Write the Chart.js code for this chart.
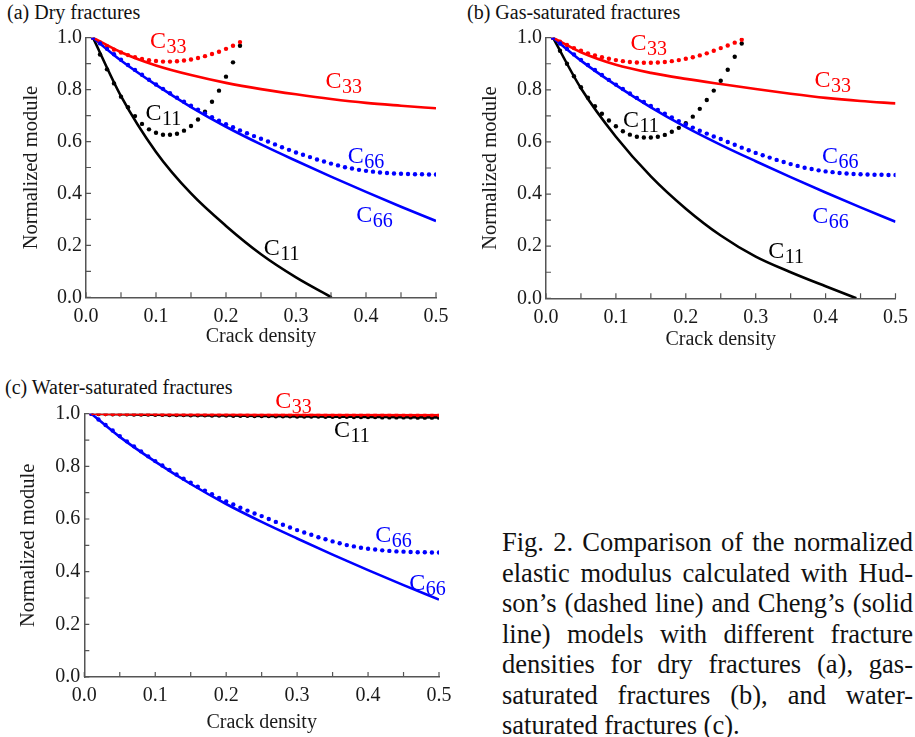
<!DOCTYPE html>
<html>
<head>
<meta charset="utf-8">
<script src="https://cdn.jsdelivr.net/npm/chart.js@4.4.0/dist/chart.umd.min.js"></script>
<style>
  body { margin: 0; background: #fff; width: 915px; height: 737px; position: relative; overflow: hidden;
         font-family: 'Liberation Serif', 'Times New Roman', serif; color: #111; }
  canvas { position: absolute; }
  .panel-title { position: absolute; font-size: 20px; line-height: 20px; white-space: nowrap; }
  .caption { position: absolute; left: 502px; top: 527px; width: 411px; font-size: 26.5px; line-height: 30.5px; }
  .caption div { text-align: justify; text-align-last: justify; }
  .caption div.last { text-align-last: left; }
</style>
</head>
<body>
<div class="panel-title" style="left:7px; top:1.5px;">(a) Dry fractures</div>
<div class="panel-title" style="left:467px; top:2.3px;">(b) Gas-saturated fractures</div>
<div class="panel-title" style="left:5px; top:377.3px;">(c) Water-saturated fractures</div>

<canvas id="dryChart" width="457" height="356" style="left:0; top:0;"></canvas>
<canvas id="gasChart" width="458" height="356" style="left:457px; top:0;"></canvas>
<canvas id="waterChart" width="460" height="367" style="left:0; top:370px;"></canvas>

<div class="caption">
  <div>Fig. 2. Comparison of the normalized</div>
  <div>elastic modulus calculated with Hud-</div>
  <div>son’s (dashed line) and Cheng’s (solid</div>
  <div>line) models with different fracture</div>
  <div>densities for dry fractures (a), gas-</div>
  <div>saturated fractures (b), and water-</div>
  <div class="last">saturated fractures (c).</div>
</div>

<script>
// Crack density sampled by the Hudson (dotted) curves
const xHudson = [0.01, 0.02, 0.03, 0.04, 0.05, 0.06, 0.07, 0.08, 0.09, 0.10,
                 0.11, 0.12, 0.13, 0.14, 0.15, 0.16, 0.17, 0.18, 0.19, 0.20,
                 0.21, 0.22, 0.23, 0.24, 0.25, 0.26, 0.27, 0.28, 0.29, 0.30,
                 0.31, 0.32, 0.33, 0.34, 0.35, 0.36, 0.37, 0.38, 0.39, 0.40,
                 0.41, 0.42, 0.43, 0.44, 0.45, 0.46, 0.47, 0.48, 0.49, 0.50];
// Crack density read for the Cheng (solid) curves
const xCheng = [0.01, 0.05, 0.1, 0.15, 0.2, 0.25, 0.3, 0.35, 0.4, 0.45, 0.5];

// Axis ticks
const xTickLabels = [0, 0.1, 0.2, 0.3, 0.4, 0.5];
const xMinorTicks = [0.05, 0.15, 0.25, 0.35, 0.45];
const yTickLabels = [0, 0.2, 0.4, 0.6, 0.8, 1.0];
const yMinorTicks = [0.1, 0.3, 0.5, 0.7, 0.9];

// C66 is the same in all three panels
const c66Hudson = [1.000, 0.978, 0.957, 0.936, 0.915, 0.895, 0.876, 0.857, 0.838, 0.820,
                   0.803, 0.786, 0.769, 0.753, 0.738, 0.723, 0.708, 0.694, 0.680, 0.667,
                   0.655, 0.643, 0.632, 0.621, 0.611, 0.600, 0.589, 0.578, 0.568, 0.558,
                   0.549, 0.540, 0.531, 0.523, 0.515, 0.508, 0.501, 0.496, 0.491, 0.487,
                   0.484, 0.481, 0.479, 0.477, 0.476, 0.475, 0.474, 0.474, 0.473, 0.473];
const c66Cheng = [1.0, 0.912, 0.818, 0.733, 0.657, 0.589, 0.526, 0.465, 0.406, 0.349, 0.294];

// (a) Dry fractures
const dryC33Hudson = [1.000, 0.982, 0.967, 0.954, 0.943, 0.933, 0.925, 0.918, 0.913, 0.910, 0.908,
                      0.908, 0.909, 0.912, 0.916, 0.922, 0.929, 0.937, 0.946, 0.957, 0.969, 0.983];
const dryC11Hudson = [1.000, 0.935, 0.878, 0.824, 0.773, 0.732, 0.698, 0.668, 0.647, 0.634, 0.626,
                      0.626, 0.630, 0.642, 0.660, 0.685, 0.715, 0.753, 0.796, 0.850, 0.905, 0.969];
const dryC33Cheng = [1.0, 0.944, 0.893, 0.856, 0.826, 0.802, 0.782, 0.764, 0.749, 0.738, 0.728];
const dryC11ChengX = [0.01, 0.05, 0.1, 0.15, 0.2, 0.25, 0.3, 0.351];
const dryC11Cheng = [1.0, 0.775, 0.56, 0.4, 0.275, 0.166, 0.077, 0.0];

// (b) Gas-saturated fractures
const gasC33Hudson = [1.000, 0.985, 0.972, 0.960, 0.950, 0.940, 0.932, 0.925, 0.919, 0.914,
                      0.910, 0.907, 0.905, 0.904, 0.904, 0.905, 0.907, 0.910, 0.914, 0.919,
                      0.925, 0.932, 0.940, 0.950, 0.960, 0.970, 0.981, 0.992];
const gasC11Hudson = [1.000, 0.950, 0.900, 0.852, 0.810, 0.770, 0.737, 0.708, 0.682, 0.660,
                      0.641, 0.628, 0.620, 0.617, 0.617, 0.620, 0.627, 0.639, 0.654, 0.672,
                      0.697, 0.727, 0.761, 0.797, 0.835, 0.877, 0.927, 0.978];
const gasC33Cheng = [1.0, 0.944, 0.896, 0.865, 0.842, 0.822, 0.803, 0.785, 0.769, 0.757, 0.748];
const gasC11ChengX = [0.01, 0.05, 0.1, 0.15, 0.2, 0.25, 0.3, 0.35, 0.4, 0.444];
const gasC11Cheng = [1.0, 0.806, 0.62, 0.468, 0.344, 0.241, 0.16, 0.1, 0.046, 0.0];

// (c) Water-saturated fractures
const waterC33Hudson = [1.000, 1.000, 0.999, 0.999, 0.999, 0.999, 0.999, 0.999, 0.999, 0.999,
                        0.998, 0.998, 0.998, 0.998, 0.998, 0.998, 0.998, 0.998, 0.998, 0.998,
                        0.998, 0.998, 0.997, 0.997, 0.997, 0.997, 0.997, 0.997, 0.997, 0.997,
                        0.997, 0.997, 0.997, 0.996, 0.996, 0.996, 0.996, 0.996, 0.996, 0.996,
                        0.996, 0.996, 0.996, 0.996, 0.995, 0.995, 0.995, 0.995, 0.995, 0.995];
const waterC11Hudson = [1.000, 0.999, 0.999, 0.998, 0.998, 0.998, 0.997, 0.997, 0.997, 0.996,
                        0.996, 0.995, 0.995, 0.995, 0.994, 0.994, 0.994, 0.993, 0.993, 0.993,
                        0.992, 0.992, 0.992, 0.991, 0.991, 0.991, 0.990, 0.990, 0.990, 0.989,
                        0.989, 0.989, 0.989, 0.988, 0.988, 0.988, 0.988, 0.987, 0.987, 0.987,
                        0.987, 0.986, 0.986, 0.986, 0.986, 0.986, 0.985, 0.985, 0.985, 0.985];
const waterC33Cheng = [1.0, 0.999, 0.999, 0.998, 0.998, 0.997, 0.997, 0.996, 0.996, 0.995, 0.995];
const waterC11Cheng = [1.0, 0.998, 0.996, 0.994, 0.993, 0.991, 0.990, 0.989, 0.988, 0.987, 0.986];

const RED = '#ff0000', BLUE = '#0000ff', BLACK = '#000000';
const FONT = "'Liberation Serif', 'Times New Roman', serif";

// Curve names drawn inside the plots (C + subscript)
const dryLabels = [
    { x: 0.0915, y: 0.959, sub: '33', color: RED },
    { x: 0.342, y: 0.805, sub: '33', color: RED },
    { x: 0.085, y: 0.683, sub: '11', color: BLACK },
    { x: 0.374, y: 0.516, sub: '66', color: BLUE },
    { x: 0.386, y: 0.291, sub: '66', color: BLUE },
    { x: 0.254, y: 0.162, sub: '11', color: BLACK }
];
const gasLabels = [
    { x: 0.121, y: 0.953, sub: '33', color: RED },
    { x: 0.384, y: 0.809, sub: '33', color: RED },
    { x: 0.11, y: 0.659, sub: '11', color: BLACK },
    { x: 0.395, y: 0.518, sub: '66', color: BLUE },
    { x: 0.381, y: 0.288, sub: '66', color: BLUE },
    { x: 0.318, y: 0.155, sub: '11', color: BLACK }
];
const waterLabels = [
    { x: 0.269, y: 1.02, sub: '33', color: RED },
    { x: 0.352, y: 0.913, sub: '11', color: BLACK },
    { x: 0.41, y: 0.514, sub: '66', color: BLUE },
    { x: 0.458, y: 0.33, sub: '66', color: BLUE }
];

function pairs(xs, ys) {
    return ys.map((y, i) => ({ x: xs[i], y: y }));
}

function solid(xs, ys, color, order) {
    return { data: pairs(xs, ys), borderColor: color, borderWidth: 2.6, pointRadius: 0,
             cubicInterpolationMode: 'monotone', fill: false, order: order };
}

function dotted(ys, color, order) {
    return { data: pairs(xHudson, ys), showLine: false, pointRadius: 2.2, pointBorderWidth: 0,
             pointBackgroundColor: color, borderColor: color, order: order };
}

// Inward tick marks (the picture has them inside the frame)
const innerTicks = {
    id: 'innerTicks',
    afterDraw(chart) {
        const ctx = chart.ctx, xs = chart.scales.x, ys = chart.scales.y;
        const bottom = chart.chartArea.bottom, left = chart.chartArea.left;
        ctx.save();
        ctx.strokeStyle = '#555';
        ctx.lineWidth = 1.2;
        ctx.beginPath();
        xTickLabels.concat(xMinorTicks).forEach(v => {
            const px = xs.getPixelForValue(v);
            ctx.moveTo(px, bottom);
            ctx.lineTo(px, bottom - 5);
        });
        yTickLabels.concat(yMinorTicks).forEach(v => {
            const py = ys.getPixelForValue(v);
            ctx.moveTo(left, py);
            ctx.lineTo(left + 5, py);
        });
        ctx.stroke();
        ctx.restore();
    }
};

function curveLabels(items) {
    return {
        id: 'curveLabels',
        afterDatasetsDraw(chart) {
            const ctx = chart.ctx, xs = chart.scales.x, ys = chart.scales.y;
            items.forEach(l => {
                const px = xs.getPixelForValue(l.x), py = ys.getPixelForValue(l.y);
                ctx.save();
                ctx.fillStyle = l.color;
                ctx.textAlign = 'left';
                ctx.textBaseline = 'alphabetic';
                ctx.font = '24px ' + FONT;
                ctx.fillText('C', px, py);
                const w = ctx.measureText('C').width;
                ctx.font = '20px ' + FONT;
                ctx.fillText(l.sub, px + w + 0.5, py + 5);
                ctx.restore();
            });
        }
    };
}

// box: canvas position/size, area: plot area in page pixels
function drawPanel(id, box, area, yTitleX, xTitleY, datasets, labels) {
    const yTitleHalf = 12.3, xTitleHalf = 12;
    const yWidth = area.left - (yTitleX - yTitleHalf);
    const xHeight = xTitleY + xTitleHalf - area.bottom;
    new Chart(document.getElementById(id), {
        type: 'line',
        data: { datasets: datasets },
        options: {
            responsive: false,
            animation: false,
            events: [],
            layout: {
                padding: {
                    left: yTitleX - yTitleHalf - box.left,
                    right: box.left + box.width - area.right,
                    top: area.top - box.top,
                    bottom: box.top + box.height - (xTitleY + xTitleHalf)
                }
            },
            plugins: { legend: { display: false }, tooltip: { enabled: false } },
            scales: {
                x: {
                    type: 'linear', min: 0, max: 0.5,
                    afterBuildTicks: s => { s.ticks = xTickLabels.map(v => ({ value: v })); },
                    afterFit: s => { s.height = xHeight; },
                    grid: { display: false, drawTicks: false },
                    border: { color: '#555', width: 1.5 },
                    ticks: { color: '#1a1a1a', padding: 7, maxRotation: 0, autoSkip: false,
                             font: { family: FONT, size: 20 }, callback: v => Number(v).toFixed(1) },
                    title: { display: true, text: 'Crack density', color: '#1a1a1a', padding: 0,
                             font: { family: FONT, size: 20 } }
                },
                y: {
                    min: 0, max: 1,
                    afterBuildTicks: s => { s.ticks = yTickLabels.map(v => ({ value: v })); },
                    afterFit: s => { s.width = yWidth; },
                    grid: { display: false, drawTicks: false },
                    border: { color: '#555', width: 1.5 },
                    ticks: { color: '#1a1a1a', padding: 4, autoSkip: false,
                             font: { family: FONT, size: 20 }, callback: v => Number(v).toFixed(1) },
                    title: { display: true, text: 'Normalized module', color: '#1a1a1a', padding: 0,
                             font: { family: FONT, size: 20.5 } }
                }
            }
        },
        plugins: [innerTicks, curveLabels(labels)]
    });
}

drawPanel('dryChart',
    { left: 0, top: 0, width: 457, height: 356 },
    { left: 86, right: 436, top: 37.7, bottom: 297.3 }, 32, 336.5,
    [
        dotted(c66Hudson, BLUE, 1),
        dotted(dryC33Hudson, RED, 2),
        dotted(dryC11Hudson, BLACK, 3),
        solid(xCheng, dryC33Cheng, RED, 4),
        solid(xCheng, c66Cheng, BLUE, 5),
        solid(dryC11ChengX, dryC11Cheng, BLACK, 6)
    ], dryLabels);

drawPanel('gasChart',
    { left: 457, top: 0, width: 458, height: 356 },
    { left: 546, right: 896, top: 37.7, bottom: 298.3 }, 491, 339.7,
    [
        dotted(c66Hudson, BLUE, 1),
        dotted(gasC33Hudson, RED, 2),
        dotted(gasC11Hudson, BLACK, 3),
        solid(xCheng, gasC33Cheng, RED, 4),
        solid(xCheng, c66Cheng, BLUE, 5),
        solid(gasC11ChengX, gasC11Cheng, BLACK, 6)
    ], gasLabels);

drawPanel('waterChart',
    { left: 0, top: 370, width: 460, height: 367 },
    { left: 84.3, right: 439, top: 413.7, bottom: 677 }, 29, 722.4,
    [
        solid(xCheng, waterC33Cheng, RED, 1),
        dotted(c66Hudson, BLUE, 2),
        dotted(waterC33Hudson, RED, 3),
        dotted(waterC11Hudson, BLACK, 4),
        solid(xCheng, c66Cheng, BLUE, 5),
        solid(xCheng, waterC11Cheng, BLACK, 6)
    ], waterLabels);
</script>
</body>
</html>
